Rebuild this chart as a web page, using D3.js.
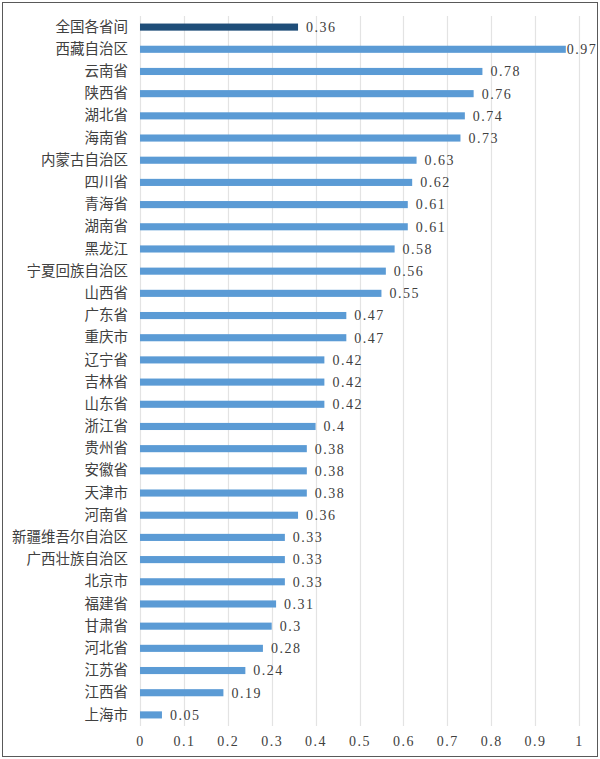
<!DOCTYPE html>
<html>
<head>
<meta charset="utf-8">
<script src="https://cdn.jsdelivr.net/npm/d3@7"></script>
<style>
  body { margin: 0; background: #fff; }
  svg text { font-family: "Liberation Serif", "Noto Sans CJK SC", serif; }
</style>
</head>
<body>
<div id="barChart"></div>
<script>
// Categories top to bottom, with values
let provinces = ["全国各省间", "西藏自治区", "云南省", "陕西省", "湖北省", "海南省", "内蒙古自治区",
    "四川省", "青海省", "湖南省", "黑龙江", "宁夏回族自治区", "山西省", "广东省", "重庆市",
    "辽宁省", "吉林省", "山东省", "浙江省", "贵州省", "安徽省", "天津市", "河南省",
    "新疆维吾尔自治区", "广西壮族自治区", "北京市", "福建省", "甘肃省", "河北省", "江苏省",
    "江西省", "上海市"];
let values = [0.36, 0.97, 0.78, 0.76, 0.74, 0.73, 0.63, 0.62, 0.61, 0.61, 0.58, 0.56, 0.55,
    0.47, 0.47, 0.42, 0.42, 0.42, 0.4, 0.38, 0.38, 0.38, 0.36, 0.33, 0.33, 0.33, 0.31,
    0.3, 0.28, 0.24, 0.19, 0.05];
let xTicks = [0, 0.1, 0.2, 0.3, 0.4, 0.5, 0.6, 0.7, 0.8, 0.9, 1];

let data = provinces.map((p, i) => ({name: p, value: values[i]}));

let W = 600, H = 759;
let margin = {top: 16, right: 21, bottom: 33, left: 140};
let width = W - margin.left - margin.right,
    height = H - margin.top - margin.bottom;

let svg = d3.select("#barChart").append("svg")
    .attr("width", W)
    .attr("height", H);

// outer frame
svg.append("rect")
    .attr("x", 2.5)
    .attr("y", 2.5)
    .attr("width", W - 5)
    .attr("height", H - 5)
    .attr("fill", "none")
    .attr("stroke", "#595959")
    .attr("stroke-width", 1);

let g = svg.append("g")
    .attr("transform", `translate(${margin.left},${margin.top})`);

let xScale = d3.scaleLinear()
    .domain([0, 1])
    .range([0, width]);

let yScale = d3.scaleBand()
    .domain(provinces)
    .range([0, height])
    .paddingInner(0.68)
    .paddingOuter(0.34);

// vertical gridlines
g.selectAll(".grid")
    .data(xTicks)
    .enter().append("line")
    .attr("class", "grid")
    .attr("x1", d => Math.round(xScale(d)) + 0.5)
    .attr("x2", d => Math.round(xScale(d)) + 0.5)
    .attr("y1", 0)
    .attr("y2", height)
    .attr("stroke", "#e3e3e3")
    .attr("stroke-width", 1.2);

g.selectAll(".bar")
    .data(data)
    .enter().append("rect")
    .attr("class", "bar")
    .attr("x", xScale(0))
    .attr("y", d => yScale(d.name))
    .attr("width", d => xScale(d.value) - xScale(0))
    .attr("height", yScale.bandwidth())
    .attr("fill", (d, i) => i === 0 ? "#1f4e79" : "#5b9bd5");

// value labels, pushed back inside the frame when they would overflow
let maxRight = W - 4 - margin.left;
g.selectAll(".value-label")
    .data(data)
    .enter().append("text")
    .attr("class", "value-label")
    .attr("y", d => yScale(d.name) + yScale.bandwidth() / 2)
    .attr("dy", "0.35em")
    .style("font-size", "14px")
    .style("letter-spacing", "1.5px")
    .attr("fill", "#404040")
    .text(d => d.value)
    .attr("x", function(d) {
        let w = this.getComputedTextLength();
        let end = xScale(d.value);
        return Math.max(end + 1, Math.min(end + 8, maxRight - w));
    });

// category axis
let yAxis = d3.axisLeft(yScale).tickSize(0).tickPadding(12);
let yg = g.append("g").call(yAxis);
yg.select(".domain").remove();
yg.selectAll("text")
    .style("font-size", "14.5px")
    .style("font-family", "'Noto Sans CJK SC', sans-serif")
    .attr("fill", "#404040");

// value axis
let xAxis = d3.axisBottom(xScale).tickValues(xTicks).tickSize(0).tickPadding(10)
    .tickFormat(d => d);
let xg = g.append("g")
    .attr("transform", `translate(0,${height})`)
    .call(xAxis);
xg.select(".domain").remove();
xg.selectAll("text")
    .style("font-size", "14px")
    .style("letter-spacing", "1.5px")
    .attr("fill", "#404040");
</script>
</body>
</html>
